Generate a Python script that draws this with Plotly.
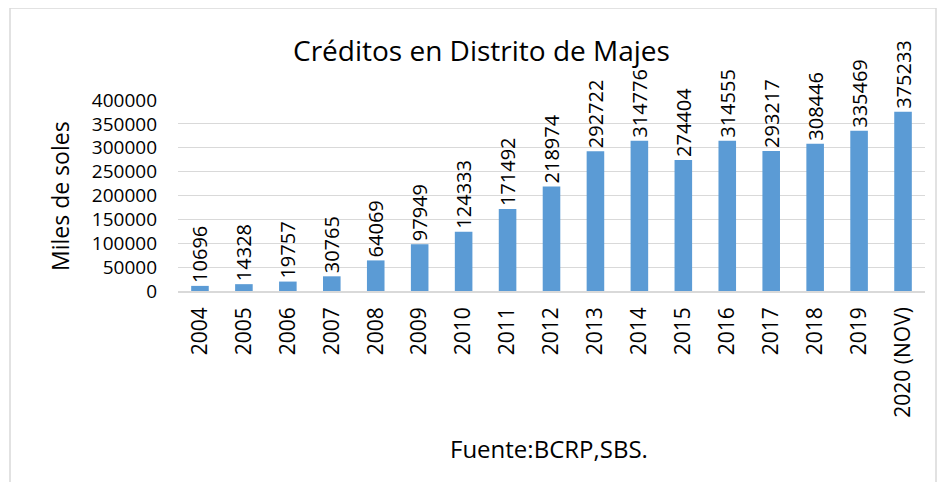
import plotly.graph_objects as go

years = ["2004", "2005", "2006", "2007", "2008", "2009", "2010", "2011", "2012",
         "2013", "2014", "2015", "2016", "2017", "2018", "2019", "2020 (NOV)"]
credits = [10696, 14328, 19757, 30765, 64069, 97949, 124333, 171492, 218974,
           292722, 314776, 274404, 314555, 293217, 308446, 335469, 375233]
y_ticks = [0, 50000, 100000, 150000, 200000, 250000, 300000, 350000, 400000]

# page body has an 8px margin; figure sized to fit the 945x490 window
OFF = 8
W, H = 945 - 2 * OFF, 490 - 2 * OFF
# plot area in screen pixels: x 178..925, y 100..291
L, R, T, B = 178 - OFF, W - (925 - OFF), 100 - OFF, H - (291 - OFF)
pw, ph = W - L - R, H - T - B

def px(x):
    return (x - OFF - L) / pw

def py(y):
    return (H - B - (y - OFF)) / ph

font = "Open Sans, Liberation Sans, sans-serif"

fig = go.Figure(go.Bar(
    x=years, y=credits,
    marker=dict(color="#5B9BD5", line=dict(width=0)),
    text=[str(v) for v in credits],
    textposition="outside",
    textangle=-90,
    constraintext="none",
    cliponaxis=False,
    textfont=dict(size=20, color="#000000", family=font),
))

fig.update_layout(
    width=W, height=H,
    margin=dict(l=L, r=R, t=T, b=B, autoexpand=False),
    paper_bgcolor="white", plot_bgcolor="white",
    bargap=0.6,
    showlegend=False,
    font=dict(family=font, color="#000000"),
    xaxis=dict(
        tickangle=-90, tickfont=dict(size=21), showgrid=False,
        showline=True, linecolor="#d9d9d9", linewidth=1.5, ticks="",
        ticklabelstandoff=6, automargin=False,
    ),
    yaxis=dict(
        range=[0, 400000], tickvals=y_ticks, ticktext=[str(v) for v in y_ticks],
        tickfont=dict(size=19), showgrid=True, gridcolor="#d9d9d9", gridwidth=1,
        zeroline=False, showline=False, ticks="",
        ticklabelstandoff=20, automargin=False,
    ),
    shapes=[dict(type="rect", xref="paper", yref="paper",
                 x0=px(10), x1=px(936), y0=py(8), y1=py(486),
                 line=dict(color="#d9d9d9", width=1.5))],
    annotations=[
        dict(text="Créditos en Distrito de Majes", xref="paper", yref="paper",
             x=px(481), y=py(50), showarrow=False, font=dict(size=28),
             xanchor="center", yanchor="middle"),
        dict(text="Miles de soles", xref="paper", yref="paper",
             x=px(60), y=py(196), showarrow=False, font=dict(size=23),
             textangle=-90, xanchor="center", yanchor="middle"),
        dict(text="Fuente:BCRP,SBS.", xref="paper", yref="paper",
             x=px(549), y=py(448), showarrow=False, font=dict(size=24),
             xanchor="center", yanchor="middle"),
    ],
)

fig.write_html("out.html")
